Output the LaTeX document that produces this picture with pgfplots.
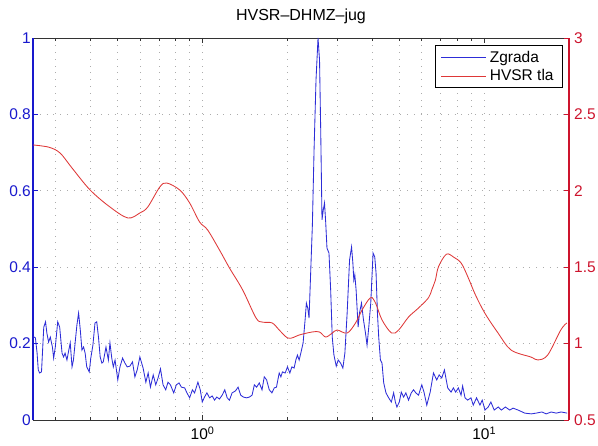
\documentclass[border=0pt]{standalone}
\usepackage{fontspec}
\setmainfont{Liberation Sans}
\usepackage{pgfplots}
\pgfplotsset{compat=1.18}
\usepackage{pgfplotstable}

\definecolor{zgrada}{RGB}{45,45,215}
\definecolor{leftax}{RGB}{25,25,205}
\definecolor{tla}{RGB}{222,55,55}
\definecolor{rightax}{RGB}{205,20,45}

% building response spectrum (Zgrada)
\pgfplotstableread{
f v
0.251 0.218
0.255 0.215
0.2585 0.175
0.261 0.131
0.264 0.123
0.268 0.126
0.273 0.243
0.277 0.257
0.280 0.228
0.284 0.204
0.288 0.217
0.293 0.191
0.296 0.162
0.300 0.191
0.306 0.257
0.311 0.243
0.317 0.175
0.321 0.165
0.325 0.175
0.330 0.157
0.334 0.178
0.339 0.202
0.344 0.139
0.348 0.157
0.358 0.249
0.363 0.280
0.368 0.236
0.373 0.183
0.378 0.191
0.383 0.175
0.388 0.139
0.396 0.126
0.401 0.162
0.408 0.196
0.415 0.254
0.421 0.257
0.427 0.217
0.433 0.165
0.439 0.149
0.444 0.152
0.454 0.191
0.463 0.157
0.469 0.202
0.476 0.162
0.482 0.139
0.489 0.157
0.500 0.105
0.509 0.139
0.520 0.162
0.530 0.149
0.540 0.139
0.552 0.141
0.564 0.152
0.575 0.113
0.586 0.131
0.599 0.165
0.615 0.136
0.629 0.099
0.641 0.123
0.653 0.086
0.668 0.118
0.682 0.092
0.695 0.110
0.709 0.134
0.724 0.092
0.740 0.079
0.754 0.099
0.769 0.092
0.790 0.071
0.807 0.092
0.825 0.097
0.841 0.086
0.864 0.084
0.880 0.071
0.900 0.058
0.920 0.079
0.937 0.071
0.9625 0.099
0.9815 0.079
0.9975 0.047
1.016 0.060
1.036 0.071
1.059 0.058
1.082 0.063
1.103 0.052
1.123 0.060
1.148 0.055
1.174 0.065
1.199 0.079
1.223 0.058
1.246 0.052
1.273 0.071
1.308 0.076
1.337 0.086
1.366 0.065
1.396 0.060
1.434 0.058
1.466 0.060
1.499 0.065
1.527 0.092
1.556 0.086
1.590 0.097
1.626 0.079
1.656 0.113
1.688 0.105
1.725 0.079
1.763 0.071
1.797 0.084
1.830 0.086
1.871 0.123
1.897 0.113
1.922 0.126
1.965 0.123
2.002 0.139
2.041 0.123
2.075 0.139
2.114 0.136
2.144 0.157
2.172 0.170
2.202 0.157
2.233 0.175
2.275 0.202
2.312 0.262
2.337 0.306
2.363 0.293
2.388 0.267
2.422 0.393
2.454 0.510
2.488 0.707
2.528 0.890
2.570 1.000
2.602 0.942
2.627 0.759
2.655 0.524
2.683 0.550
2.710 0.568
2.736 0.518
2.765 0.450
2.811 0.437
2.850 0.340
2.887 0.217
2.927 0.170
2.983 0.141
3.031 0.157
3.091 0.149
3.149 0.136
3.201 0.175
3.261 0.280
3.326 0.419
3.381 0.453
3.417 0.411
3.444 0.366
3.472 0.380
3.509 0.340
3.567 0.243
3.607 0.280
3.667 0.306
3.727 0.262
3.788 0.228
3.838 0.196
3.892 0.243
3.956 0.306
4.030 0.437
4.086 0.427
4.130 0.385
4.177 0.280
4.221 0.217
4.280 0.157
4.336 0.149
4.397 0.097
4.479 0.071
4.579 0.058
4.680 0.047
4.769 0.071
4.836 0.047
4.898 0.034
4.995 0.047
5.077 0.073
5.173 0.060
5.270 0.071
5.387 0.052
5.508 0.071
5.611 0.079
5.717 0.071
5.845 0.065
6.003 0.092
6.112 0.073
6.253 0.039
6.429 0.073
6.604 0.123
6.783 0.105
6.918 0.118
7.066 0.110
7.224 0.131
7.420 0.084
7.628 0.073
7.772 0.084
7.918 0.073
8.094 0.084
8.274 0.065
8.382 0.089
8.547 0.058
8.730 0.052
8.974 0.058
9.143 0.039
9.393 0.058
9.656 0.039
9.838 0.052
10.06 0.026
10.33 0.034
10.56 0.047
10.85 0.026
11.21 0.034
11.51 0.026
11.89 0.034
12.32 0.026
12.66 0.031
13.19 0.026
13.93 0.018
14.69 0.016
15.30 0.018
16.03 0.021
16.60 0.016
17.29 0.021
18.01 0.018
18.76 0.021
19.70 0.018
}\zgradadata

% ground HVSR curve (HVSR tla)
\pgfplotstableread{
f r
0.250 2.300
0.285 2.285
0.312 2.247
0.344 2.149
0.399 2.005
0.469 1.894
0.543 1.822
0.599 1.855
0.639 1.894
0.705 2.025
0.746 2.051
0.830 2.005
0.900 1.920
0.976 1.796
1.042 1.744
1.148 1.613
1.246 1.495
1.388 1.351
1.548 1.168
1.629 1.141
1.767 1.135
1.871 1.089
2.002 1.037
2.100 1.040
2.200 1.056
2.450 1.076
2.600 1.076
2.736 1.043
2.887 1.069
3.007 1.089
3.261 1.069
3.493 1.135
3.685 1.220
3.946 1.300
4.111 1.266
4.336 1.155
4.690 1.069
4.968 1.089
5.387 1.174
5.845 1.233
6.341 1.300
6.510 1.351
6.710 1.416
6.880 1.503
7.340 1.585
7.800 1.565
8.290 1.526
8.780 1.430
9.300 1.320
10.06 1.198
11.20 1.069
12.45 0.958
14.65 0.912
15.50 0.893
16.80 0.925
18.70 1.089
19.65 1.135
}\tladata

\newcommand{\lblfont}{\fontsize{15.5}{18.5}\selectfont}

\begin{document}
\begin{tikzpicture}[font=\lblfont]
\useasboundingbox (-33pt,-26pt) rectangle (565pt,420pt);
\begin{axis}[
  scale only axis, width=536pt, height=382pt,
  at={(0pt,0pt)}, anchor=south west,
  xmode=log, xmin=0.25, xmax=20,
  ymin=0, ymax=1,
  tick align=inside, major tick length=5pt, minor tick length=3pt,
  /pgf/number format/assume math mode=true,
  tick label style={font=\lblfont},
  axis x line*=box, axis y line*=left,
  ytick={0,0.2,0.4,0.6,0.8,1},
  xtick={1,10}, xticklabels={10\textsuperscript{0},10\textsuperscript{1}},
  minor xtick={0.3,0.4,0.5,0.6,0.7,0.8,0.9,2,3,4,5,6,7,8,9},
  xtick pos=both,
  grid=both,
  major grid style={gray!65, line width=0.65pt, dash pattern=on 0.8pt off 6pt},
  minor grid style={gray!65, line width=0.65pt, dash pattern=on 0.8pt off 6pt},
  x axis line style={black!80, line width=0.8pt},
  y axis line style={leftax, line width=1.2pt},
  xtick style={black!80, line width=0.6pt},
  ytick style={leftax, line width=0.8pt},
  yticklabel style={leftax, inner sep=2pt},
  xticklabel style={black, inner sep=3pt, yshift=-4pt},
  title={\fontsize{16}{19}\selectfont HVSR--DHMZ--jug},
  title style={at={(0.5,1)}, anchor=base, yshift=11pt, inner sep=0pt},
]
\addplot[draw=zgrada, line width=0.85pt] table[x=f, y=v]{\zgradadata};
\end{axis}
\begin{axis}[
  scale only axis, width=536pt, height=382pt,
  at={(0pt,0pt)}, anchor=south west,
  xmode=log, xmin=0.25, xmax=20,
  ymin=0.5, ymax=3,
  tick align=inside, major tick length=5pt,
  /pgf/number format/assume math mode=true,
  tick label style={font=\lblfont},
  axis x line=none, axis y line*=right,
  ytick={0.5,1,1.5,2,2.5,3},
  y axis line style={rightax, line width=1.1pt},
  ytick style={rightax, line width=0.8pt},
  yticklabel style={rightax, inner sep=2pt, xshift=3pt},
  legend cell align=left,
  legend style={at={(1,1)}, anchor=north east, xshift=-6pt, yshift=-7pt,
    draw=black, line width=0.8pt, inner xsep=6pt, inner ysep=4pt,
    row sep=3pt, font=\lblfont,
    nodes={inner xsep=3pt, inner ysep=1.5pt}},
]
\addlegendimage{legend image code/.code={\draw[draw=zgrada, line width=0.9pt] (0pt,0pt) -- (45pt,0pt);}}
\addlegendentry{Zgrada}
\addplot[draw=tla, line width=0.85pt, smooth, tension=0.55,
  legend image code/.code={\draw[draw=tla, line width=0.9pt] (0pt,0pt) -- (45pt,0pt);}]
  table[x=f, y=r]{\tladata};
\addlegendentry{HVSR tla}
\end{axis}
\end{tikzpicture}
\end{document}
